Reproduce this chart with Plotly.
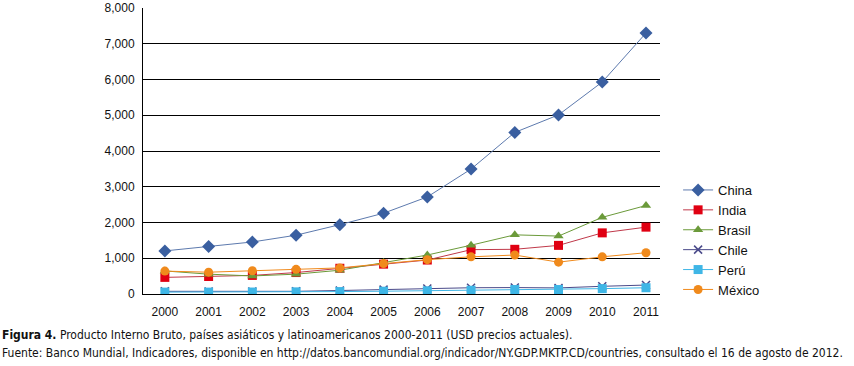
import plotly.graph_objects as go

years = ["2000", "2001", "2002", "2003", "2004", "2005", "2006", "2007", "2008", "2009", "2010", "2011"]
china = [1205, 1330, 1455, 1645, 1940, 2260, 2715, 3495, 4520, 5010, 5930, 7300]
india = [465, 490, 520, 600, 720, 835, 950, 1240, 1250, 1360, 1710, 1870]
brasil = [645, 555, 505, 555, 665, 880, 1090, 1365, 1655, 1620, 2145, 2475]
chile = [75, 70, 68, 75, 98, 122, 155, 175, 180, 170, 215, 250]
peru = [53, 53, 55, 60, 68, 78, 90, 105, 125, 125, 150, 175]
mexico = [640, 610, 650, 690, 730, 850, 960, 1040, 1090, 890, 1040, 1155]

ticks = [0, 1000, 2000, 3000, 4000, 5000, 6000, 7000, 8000]
tick_labels = ["0", "1,000", "2,000", "3,000", "4,000", "5,000", "6,000", "7,000", "8,000"]

fig = go.Figure()

def add(name, ys, color, symbol, size, lc=None):
    fig.add_trace(go.Scatter(
        x=years, y=ys, name=name, mode="lines+markers",
        line=dict(color=lc or color, width=1),
        marker=dict(symbol=symbol, size=size, color=color,
                    line=dict(width=1.5 if symbol == "x-thin" else 0, color=color)),
    ))

add("China", china, "#3A5FA0", "diamond", 10, "#5D7AAE")
add("India", india, "#E00012", "square", 9, "#C0394A")
add("Brasil", brasil, "#6B9A3A", "triangle-up", 9)
add("Chile", chile, "#4A4A8A", "x-thin", 8)
add("Perú", peru, "#3FB6E6", "square", 9)
add("México", mexico, "#F08A1C", "circle", 9)

base_font = "'Liberation Sans', Arial, sans-serif"
narrow_font = "'Liberation Sans Narrow', 'Arial Narrow', 'Liberation Sans', sans-serif"
fig.update_layout(
    width=854, height=366,
    margin=dict(l=143, r=194, t=8, b=72, autoexpand=False),
    paper_bgcolor="white", plot_bgcolor="white",
    font=dict(family=base_font, size=12, color="#111"),
    showlegend=True,
    legend=dict(x=1.035, xanchor="left", y=(294 - 175) / 286, yanchor="top",
                font=dict(size=13, family=narrow_font), tracegroupgap=0, itemwidth=30,
                bgcolor="rgba(0,0,0,0)"),
    xaxis=dict(type="category", range=[-0.5, 11.32], showgrid=False, showline=True,
               linecolor="black", linewidth=1, ticks="", tickfont=dict(size=12),
               ticklabelstandoff=7),
    yaxis=dict(range=[0, 8000], tickvals=ticks, ticktext=tick_labels,
               showgrid=True, gridcolor="black", gridwidth=1,
               showline=True, linecolor="black", linewidth=1, zeroline=False,
               ticks="", ticklen=0, tickfont=dict(size=12), ticklabelstandoff=5),
)

cap_font = "'Liberation Sans Narrow', 'DejaVu Sans Condensed', 'Liberation Sans', sans-serif"
fig.add_annotation(
    xref="paper", yref="paper", x=-143/517, y=-(335-294)/286, xanchor="left", yanchor="middle",
    text="<b>Figura 4.</b> Producto Interno Bruto, países asiáticos y latinoamericanos 2000-2011 (USD precios actuales).",
    showarrow=False, font=dict(family=cap_font, size=12, color="#111"))
fig.add_annotation(
    xref="paper", yref="paper", x=-143/517, y=-(353-294)/286, xanchor="left", yanchor="middle",
    text="Fuente: Banco Mundial, Indicadores, disponible en http://datos.bancomundial.org/indicador/NY.GDP.MKTP.CD/countries, consultado el 16 de agosto de 2012.",
    showarrow=False, font=dict(family=cap_font, size=12, color="#111"))

fig.write_html("out.html", config={"displayModeBar": False},
               post_script="document.body.style.margin='0';document.body.style.overflow='hidden';")
